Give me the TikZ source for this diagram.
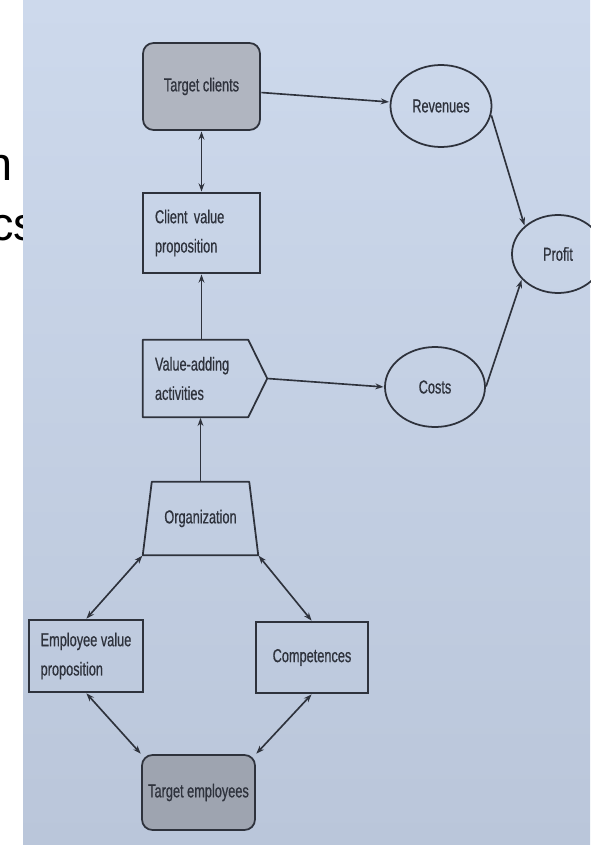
\documentclass[tikz,border=0pt]{standalone}
\usepackage{fontspec}
\setmainfont{Liberation Sans}
\newfontfamily\boxfont[FakeStretch=0.68,FakeBold=0.6]{Liberation Sans}
\usetikzlibrary{shapes.geometric,calc,arrows.meta}

\definecolor{pagetop}{RGB}{205,217,236}
\definecolor{pagebottom}{RGB}{186,198,218}
\definecolor{inkline}{RGB}{46,50,60}
\definecolor{clientgray}{RGB}{176,181,192}
\definecolor{staffgray}{RGB}{158,164,176}

\begin{document}
\begin{tikzpicture}[x=0.03cm,y=-0.03cm,>={Stealth[length=7pt,width=5pt]},
    every node/.style={font=\boxfont\fontsize{16}{25}\selectfont,text=inkline},
    box/.style={rectangle,draw=inkline,line width=1.5pt},
    round box/.style={box,rounded corners=9pt},
    frame/.style={rectangle,inner sep=0pt},
    oval/.style={ellipse,draw=inkline,line width=1.5pt,inner sep=0pt},
    outline/.style={draw=inkline,line width=1.5pt,line join=round},
    link/.style={color=inkline,line width=1.4pt,shorten >=0.5pt,shorten <=0.5pt},
    fragment/.style={font=\fontsize{40}{44}\selectfont,text=black,inner sep=0pt}]
    \useasboundingbox (0,0) rectangle (590,845);

    % page and photo
    \fill[white] (0,0) rectangle (590,845);
    \node[fragment,anchor=base east] (fragn) at (13,180) {n};
    \node[fragment,anchor=base west] (fragcs) at (-10,240) {cs};
    \shade[top color=pagetop,bottom color=pagebottom] (23,0) rectangle (590,845);

    % client side
    \node[round box,fill=clientgray,minimum width=3.51cm,minimum height=2.61cm] (tclients) at (201.5,86.5) {Target clients};
    \node[box,minimum width=3.51cm,minimum height=2.4cm,text width=2.79cm,align=left] (cvp) at (201.5,233) {Client value\\proposition};
    \node[frame,minimum width=3.15cm,minimum height=2.31cm,text width=2.43cm,align=left] (vaa) at (195.5,378.5) {Value-adding\\activities};
    \draw[outline] (vaa.north west) -- (vaa.north east) -- ($(vaa.east)+(19,0)$) coordinate (vaatip)
        -- (vaa.south east) -- (vaa.south west) -- cycle;
    \node[frame,minimum width=3.45cm,minimum height=2.19cm] (org) at (200.5,518.5) {Organization};
    \draw[outline] (org.south west) -- (org.south east) -- ($(org.north east)+(-9,0)$)
        -- ($(org.north west)+(9,0)$) -- cycle;

    % employee side
    \node[box,minimum width=3.42cm,minimum height=2.16cm,align=left] (evp) at (86,656) {Employee value\\proposition};
    \node[box,minimum width=3.36cm,minimum height=2.13cm] (comp) at (312,657.5) {Competences};
    \node[round box,fill=staffgray,minimum width=3.39cm,minimum height=2.25cm] (temp) at (198.5,792.5) {Target employees};

    % money
    \node[oval,minimum width=3.03cm,minimum height=2.46cm] (rev) at (441,106) {Revenues};
    \node[oval,minimum width=2.76cm,minimum height=2.34cm] (profit) at (558,254) {Profit};
    \node[oval,minimum width=3.0cm,minimum height=2.4cm] (costs) at (435,387) {Costs};

    \path[link]
        ($(tclients.east)+(0,6)$) edge[->] ($(rev.west)+(0,-4)$)
        (cvp.north) edge[<->] (tclients.south)
        (vaa.north -| cvp.south) edge[->] (cvp.south)
        (org.north) edge[->] (vaa.south -| org.north)
        (vaatip) edge[->] (costs.west)
        (rev.-10) edge[->] (profit.140)
        (costs.east) edge[->] (profit.215)
        (org.south west) edge[<->] (evp.north)
        (org.south east) edge[<->] (comp.north)
        (evp.south) edge[<->] (temp.north west)
        (comp.south) edge[<->] (temp.north east)
        ;
\end{tikzpicture}
\end{document}
